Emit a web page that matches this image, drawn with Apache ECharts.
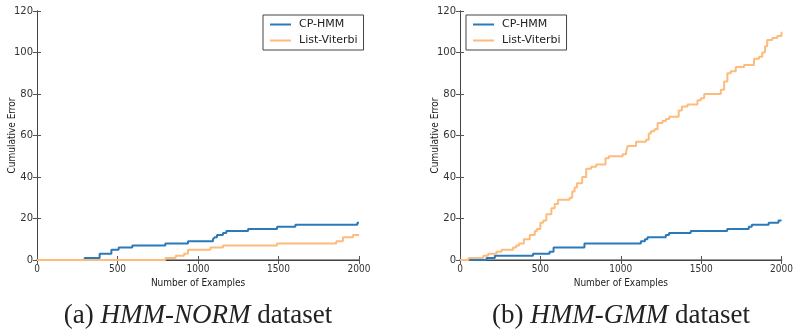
<!DOCTYPE html>
<html lang="en">
<head>
    <meta charset="UTF-8">
    <title>Cumulative Error: CP-HMM vs List-Viterbi</title>
    <script src="https://cdn.jsdelivr.net/npm/echarts@6/dist/echarts.min.js"></script>
    <style>
        body { margin: 0; background: #fff; }
        #chart { width: 796px; height: 330px; }
    </style>
</head>
<body>
<div id="chart"></div>
<script>
    // each pair: [example index where the count changes, new cumulative error]
    var normCpHmm = [[0, 0], [296, 1], [389, 3], [462, 5], [507, 6], [592, 7], [797, 8], [938, 9],
        [1093, 10], [1105, 11], [1118, 12], [1155, 13], [1176, 14], [1311, 15], [1491, 16],
        [1605, 17], [1990, 18], [2000, 18]];
    var normListViterbi = [[0, 0], [797, 1], [861, 2], [913, 3], [938, 5], [1077, 6], [1155, 7],
        [1491, 8], [1859, 9], [1900, 11], [1963, 12], [2000, 12]];

    var gmmCpHmm = [[0, 0], [165, 1], [217, 2], [454, 3], [557, 4], [582, 6], [774, 8], [1125, 9],
        [1150, 10], [1166, 11], [1280, 12], [1300, 13], [1435, 14], [1662, 15], [1796, 16],
        [1815, 17], [1920, 18], [1981, 19], [2000, 19]];
    var gmmListViterbi = [[0, 0], [52, 1], [145, 2], [175, 3], [227, 4], [258, 5], [330, 6], [350, 7],
        [368, 8], [397, 10], [434, 12], [465, 14], [478, 15], [500, 18], [518, 19], [537, 22],
        [568, 25], [589, 27], [610, 29], [640, 29], [682, 30], [698, 33], [713, 35], [727, 37],
        [760, 40], [785, 44], [816, 45], [847, 46], [905, 49], [926, 50], [1012, 51], [1033, 52],
        [1043, 55], [1095, 57], [1157, 58], [1174, 61], [1188, 62], [1209, 63], [1229, 66],
        [1260, 67], [1281, 68], [1302, 69], [1360, 72], [1380, 74], [1415, 75], [1477, 77],
        [1498, 78], [1519, 80], [1622, 82], [1643, 86], [1663, 90], [1684, 91], [1715, 93],
        [1767, 94], [1829, 97], [1860, 98], [1880, 100], [1897, 103], [1911, 106], [1942, 107],
        [1973, 108], [2000, 110]];

    var xTicks = [0, 500, 1000, 1500, 2000];
    var yTicks = [0, 20, 40, 60, 80, 100, 120];
    var seriesNames = ['CP-HMM', 'List-Viterbi'];
    var captions = ['(a) {i|HMM-NORM} dataset', '(b) {i|HMM-GMM} dataset'];

    var blue = '#2a7ab9';
    var orange = '#fdbb7c';
    var labelFont = 'DejaVu Sans';

    var chart = echarts.init(document.getElementById('chart'));

    var grids = [
        { left: 37, right: 437, top: 11, bottom: 70 },
        { left: 460, right: 13, top: 11, bottom: 70 }
    ];

    function plain(v) { return String(v); }

    var xAxes = [], yAxes = [], series = [];
    grids.forEach(function (g, i) {
        // bottom axis with labels
        xAxes.push({
            type: 'value', gridIndex: i, min: xTicks[0], max: xTicks[xTicks.length - 1], interval: 500,
            name: 'Number of Examples', nameLocation: 'middle', nameGap: 16,
            nameTextStyle: { fontFamily: 'DejaVu Sans Condensed', fontSize: 10, color: '#222' },
            axisLine: { lineStyle: { color: '#9a9a9a', width: 2 } },
            axisTick: { inside: true, length: 4, lineStyle: { color: '#555' } },
            axisLabel: { fontFamily: 'DejaVu Sans Condensed', fontSize: 10, color: '#333', margin: 4, formatter: plain },
            splitLine: { show: false }
        });
        // top frame
        xAxes.push({
            type: 'value', gridIndex: i, position: 'top', min: 0, max: 2000, interval: 500,
            axisLine: { lineStyle: { color: '#444', width: 1 } },
            axisTick: { inside: true, length: 4, lineStyle: { color: '#555' } },
            axisLabel: { show: false }, splitLine: { show: false }
        });
        yAxes.push({
            type: 'value', gridIndex: i, min: yTicks[0], max: yTicks[yTicks.length - 1], interval: 20,
            name: 'Cumulative Error', nameLocation: 'middle', nameGap: 20, nameRotate: 90,
            nameMoveOverlap: false,
            nameTextStyle: { fontFamily: 'DejaVu Sans Condensed', fontSize: 10, color: '#222' },
            axisLine: { show: true, lineStyle: { color: '#444', width: 1 } },
            axisTick: { show: true, inside: true, length: 4, lineStyle: { color: '#555' } },
            axisLabel: { fontFamily: labelFont, fontSize: 10, color: '#333', margin: 4, formatter: plain },
            splitLine: { show: false }
        });
        yAxes.push({
            type: 'value', gridIndex: i, position: 'right', min: 0, max: 120, interval: 20,
            axisLine: { show: true, lineStyle: { color: '#444', width: 1 } },
            axisTick: { show: true, inside: true, length: 4, lineStyle: { color: '#555' } },
            axisLabel: { show: false }, splitLine: { show: false }
        });
    });

    function stepSeries(name, data, idx, color) {
        return {
            name: name, type: 'line', step: 'end', data: data,
            xAxisIndex: idx * 2, yAxisIndex: idx * 2,
            symbol: 'none', lineStyle: { color: color, width: 2 },
            itemStyle: { color: color }, animation: false
        };
    }
    series.push(stepSeries(seriesNames[0], normCpHmm, 0, blue));
    series.push(stepSeries(seriesNames[1], normListViterbi, 0, orange));
    series.push(stepSeries(seriesNames[0], gmmCpHmm, 1, blue));
    series.push(stepSeries(seriesNames[1], gmmListViterbi, 1, orange));

    function legendAt(left) {
        return {
            left: left, top: 15, orient: 'vertical',
            data: seriesNames, itemWidth: 21, itemHeight: 10, itemGap: 5,
            borderColor: '#444', borderWidth: 1, borderRadius: 0, padding: [4, 6, 4, 7],
            icon: 'path://M0,4 L21,4 L21,6 L0,6 Z',
            textStyle: { fontFamily: labelFont, fontSize: 11, color: '#222', padding: [0, 0, 0, 3] },
            backgroundColor: '#fff'
        };
    }

    var captionRich = {
        i: { fontFamily: 'Liberation Serif', fontStyle: 'italic', fontSize: 27, color: '#222' }
    };
    var captionStyle = { fontFamily: 'Liberation Serif', fontWeight: 'normal', fontSize: 27, color: '#222', rich: captionRich };

    chart.setOption({
        animation: false,
        grid: grids,
        xAxis: xAxes,
        yAxis: yAxes,
        legend: [legendAt(263), legendAt(466)],
        title: [
            { text: captions[0], left: 193, top: 297, textAlign: 'center', textStyle: captionStyle },
            { text: captions[1], left: 616, top: 297, textAlign: 'center', textStyle: captionStyle }
        ],
        series: series
    });
</script>
</body>
</html>
